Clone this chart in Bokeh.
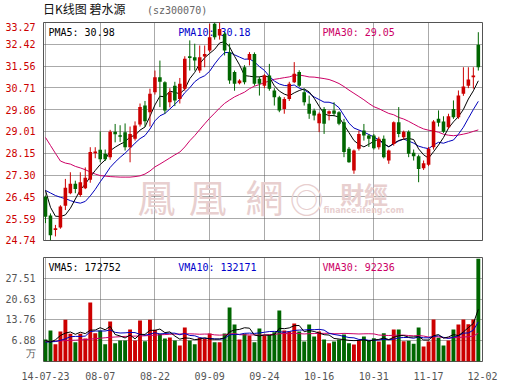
from bokeh.plotting import figure
from bokeh.layouts import column
from bokeh.models import (ColumnDataSource, FixedTicker, Label, Range1d, Div,
                          PrintfTickFormatter, CustomJSTickFormatter)
from bokeh.embed import file_html
from bokeh.resources import INLINE

# ---------------- data ----------------
date_labels = ["14-07-23", "08-07", "08-22", "09-09", "09-24", "10-16", "10-31", "11-17", "12-02"]
date_label_idx = [0, 11, 22, 33, 44, 55, 66, 77, 88]

opens = [26.45, 25.72, 25.15, 25.25, 26.10, 26.59, 26.96, 26.52, 26.78, 27.12,
         28.15, 28.29, 28.13, 28.00, 29.00, 28.86, 28.98, 28.39, 28.72, 29.28,
         30.02, 29.76, 30.54, 31.13, 30.93, 30.15, 30.80, 30.28, 30.68, 31.95,
         31.91, 31.39, 31.94, 32.17, 33.22, 32.76, 32.83, 32.11, 31.33, 30.89,
         31.52, 31.81, 32.04, 31.07, 30.80, 31.20, 30.61, 30.35, 29.89, 30.28,
         30.93, 31.33, 30.54, 30.09, 29.83, 29.33, 29.89, 29.70, 29.83, 29.76,
         29.37, 28.33, 27.48, 28.33, 29.04, 28.85, 28.85, 28.39, 28.72, 27.87,
         28.52, 29.37, 28.78, 29.00, 28.17, 28.04, 27.57, 27.70, 28.39, 29.50,
         29.40, 29.17, 29.89, 29.56, 30.48, 30.80, 31.13, 32.40]
highs = [26.50, 25.80, 25.35, 26.12, 27.15, 27.41, 27.08, 27.41, 27.60, 28.39,
         28.39, 29.00, 28.30, 29.07, 29.30, 29.25, 29.32, 29.20, 29.40, 30.10,
         30.20, 30.68, 31.39, 31.78, 30.97, 30.70, 30.95, 31.10, 31.95, 32.57,
         32.44, 32.37, 32.37, 33.22, 33.27, 33.27, 32.90, 32.44, 31.39, 31.05,
         31.60, 32.11, 32.10, 31.15, 31.25, 31.65, 30.70, 30.40, 30.35, 30.95,
         31.72, 31.40, 30.68, 30.41, 29.90, 29.75, 29.96, 29.83, 30.15, 29.80,
         29.50, 28.40, 28.30, 29.04, 29.30, 28.90, 28.91, 28.80, 28.85, 28.30,
         29.40, 29.96, 29.04, 29.05, 28.30, 28.10, 27.87, 28.40, 29.45, 29.83,
         29.60, 29.70, 30.22, 30.61, 31.52, 31.52, 31.52, 32.89]
lows = [25.42, 24.74, 24.90, 25.20, 25.93, 26.55, 26.59, 26.45, 26.75, 27.00,
        27.96, 27.80, 27.85, 27.90, 28.58, 28.60, 28.26, 27.80, 28.65, 29.20,
        29.20, 29.20, 30.45, 29.96, 29.70, 29.95, 30.00, 30.10, 30.60, 31.39,
        31.39, 31.30, 31.52, 32.10, 32.60, 32.60, 31.98, 30.87, 30.60, 30.85,
        30.85, 31.59, 30.80, 30.41, 30.70, 30.60, 30.02, 29.76, 29.70, 30.20,
        30.90, 30.74, 30.02, 29.50, 29.44, 28.98, 28.91, 29.44, 29.60, 29.25,
        28.00, 27.78, 27.35, 28.26, 28.65, 28.40, 28.30, 28.30, 27.95, 27.74,
        28.45, 28.78, 28.70, 28.00, 27.87, 27.02, 27.50, 27.65, 28.30, 29.20,
        28.95, 29.10, 29.50, 29.50, 30.40, 30.70, 30.68, 31.39]
closes = [25.67, 24.95, 25.22, 26.07, 26.80, 26.96, 26.76, 27.02, 27.20, 28.20,
          28.22, 27.92, 27.92, 29.00, 28.90, 28.80, 28.39, 28.91, 29.24, 29.96,
          29.41, 30.48, 31.13, 30.95, 29.83, 30.54, 30.22, 30.87, 31.85, 31.88,
          31.78, 31.91, 32.04, 32.69, 32.69, 33.02, 32.17, 31.00, 30.87, 31.00,
          30.93, 32.04, 30.87, 30.87, 31.20, 30.68, 30.35, 29.83, 30.28, 30.87,
          31.26, 30.80, 30.15, 29.70, 29.63, 29.70, 29.31, 29.80, 29.70, 29.31,
          28.20, 27.80, 28.26, 28.91, 28.85, 28.72, 28.35, 28.72, 28.00, 28.26,
          29.37, 28.91, 29.00, 28.13, 28.04, 27.54, 27.76, 28.33, 29.40, 29.35,
          29.00, 29.60, 29.56, 30.41, 30.77, 31.04, 31.20, 31.52]
# volume, in units of 10 000 (万)
volumes = [7.27, 10.25, 5.73, 9.92, 13.78, 9.15, 6.39, 9.15, 7.60, 19.50,
           9.37, 10.25, 5.73, 13.23, 6.06, 6.94, 6.94, 10.58, 6.94, 13.56,
           6.72, 13.78, 10.47, 9.15, 7.60, 7.94, 6.94, 5.29, 11.24, 6.94,
           5.73, 7.83, 7.50, 9.26, 6.39, 6.39, 9.26, 17.86, 12.24, 7.27,
           9.15, 8.60, 6.39, 10.90, 8.60, 8.82, 9.70, 16.87, 10.25, 9.92,
           12.57, 9.92, 6.61, 12.24, 8.27, 9.92, 7.27, 6.06, 6.61, 7.27,
           8.93, 6.06, 5.62, 6.94, 8.27, 6.94, 7.72, 6.61, 9.37, 5.62,
           10.58, 10.58, 6.72, 6.83, 5.84, 11.24, 4.96, 6.61, 13.89, 7.83,
           5.29, 6.94, 10.58, 12.24, 13.89, 12.35, 13.89, 34.00]

# moving-average values before a full window exists
pma5_head = [26.70, 26.04, 25.69, 25.68]
pma10_head = [26.70, 26.60, 26.50, 26.43, 26.38, 26.30, 26.24, 26.20, 26.27]
pma30_head = [28.77, 28.46, 28.15, 27.85, 27.77, 27.73, 27.64, 27.58, 27.51, 27.42,
              27.34, 27.28, 27.26, 27.24, 27.23, 27.22, 27.22, 27.22, 27.24, 27.27,
              27.34, 27.46, 27.62, 27.73, 27.85, 27.97, 28.09, 28.20, 28.40]
vma5_head = [6.94, 6.39, 7.17, 8.60]
vma10_head = [6.40, 6.50, 6.60, 7.00, 7.50, 8.20, 8.30, 8.30, 8.40]
vma30_head = [6.60, 6.65, 6.70, 6.80, 6.90, 7.00, 7.05, 7.15, 7.25, 7.40,
              7.55, 7.70, 7.85, 8.00, 8.10, 8.20, 8.30, 8.35, 8.40, 8.45,
              8.50, 8.60, 8.70, 8.85, 8.90, 9.00, 9.05, 9.10, 9.15]

price_ticks = [24.74, 25.59, 26.45, 27.30, 28.15, 29.01, 29.86, 30.71, 31.56, 32.42, 33.27]
vol_ticks = [6.88, 13.76, 20.63, 27.51]
vol_top = 34.39
vol_unit = "万"

legend_price = ["PMA5: 30.98", "PMA10: 30.18", "PMA30: 29.05"]
legend_vol = ["VMA5: 172752", "VMA10: 132171", "VMA30: 92236"]
title_main = "日K线图 碧水源"
title_code = "(sz300070)"

# ---------------- derived ----------------
def moving(vals, n, head):
    out = list(head)
    for i in range(len(head), len(vals)):
        out.append(sum(vals[i - n + 1:i + 1]) / n)
    return out

N = len(closes)
idx = list(range(N))
RED, GREEN = "#cc0000", "#006600"
C5, C10, C30 = "#000000", "#0000bb", "#cc0066"
colors = [RED if c >= o else GREEN for o, c in zip(opens, closes)]

src = ColumnDataSource(dict(
    x=idx, o=opens, h=highs, l=lows, c=closes,
    top=[max(a, b) for a, b in zip(opens, closes)],
    bot=[min(a, b) for a, b in zip(opens, closes)],
    vol=volumes, color=colors,
    ma5=moving(closes, 5, pma5_head), ma10=moving(closes, 10, pma10_head),
    ma30=moving(closes, 30, pma30_head),
    v5=moving(volumes, 5, vma5_head), v10=moving(volumes, 10, vma10_head),
    v30=moving(volumes, 30, vma30_head),
))

X_LO, X_HI = -0.4, 87.84
MONO = "DejaVu Sans Mono"
CJK = "Noto Sans CJK SC"
GRID = "#555555"

xt = [min(max(t, X_LO + 0.001), X_HI - 0.001) for t in date_label_idx]

# ---------------- title strip ----------------
title_html = (
    '<div style="padding:2px 0 0 43px;white-space:nowrap;line-height:14px;">'
    '<span style="display:inline-block;width:104px;line-height:14px;'
    'font-family:\'Noto Sans CJK SC\';font-size:12px;color:#111111;">' + title_main + '</span>'
    '<span style="display:inline-block;line-height:14px;font-family:\'DejaVu Sans Mono\';'
    'font-size:10px;color:#666666;">' + title_code + '</span></div>'
)
p0 = Div(text=title_html, width=530, height=22, margin=0)

# ---------------- price panel ----------------
p1 = figure(width=530, height=226, x_range=Range1d(X_LO, X_HI),
            y_range=Range1d(price_ticks[0], price_ticks[-1]),
            output_backend="svg", toolbar_location=None,
            min_border_left=43, min_border_right=48, min_border_top=0,
            min_border_bottom=8, x_axis_location=None)
p1.outline_line_color = "#555555"
p1.outline_line_width = 1
p1.xgrid.ticker = FixedTicker(ticks=xt)
p1.grid.grid_line_color = GRID
p1.grid.grid_line_dash = "1 1"
p1.grid.grid_line_width = 1
yt = [price_ticks[0] + 0.0001] + price_ticks[1:-1] + [price_ticks[-1] - 0.0001]
p1.yaxis.ticker = FixedTicker(ticks=yt)
p1.yaxis.formatter = PrintfTickFormatter(format="%.2f")
p1.yaxis.axis_line_color = None
p1.yaxis.major_tick_line_color = None
p1.yaxis.minor_tick_line_color = None
p1.yaxis.major_label_standoff = 2
p1.yaxis.major_label_text_font = MONO
p1.yaxis.major_label_text_font_size = "10px"
p1.yaxis.major_label_text_color = "#cc0000"

for txt, xx, col in zip(legend_price, [0.6, 26.7, 55.7], [C5, "#0000cc", C30]):
    p1.add_layout(Label(x=xx, y=32.88, text=txt, text_font=MONO, text_font_size="10px",
                        text_color=col, text_baseline="middle", level="underlay"))

# watermark
WM = "#e8cfcf"
p1.text(x=[22.3, 32.6, 44.0], y=[26.50] * 3, text=["鳳", "凰", "網"],
        text_font={"value": CJK}, text_font_size="38px", text_color=WM,
        text_align="center", text_baseline="middle")
p1.text(x=[52.5], y=[26.38], text=["◎"], text_font={"value": CJK},
        text_font_size="34px", text_color=WM, text_align="center", text_baseline="middle")
p1.text(x=[64.0], y=[26.58], text=["財經"], text_font={"value": CJK},
        text_font_size="24px", text_font_style="bold", text_color=WM,
        text_align="center", text_baseline="middle")
p1.text(x=[64.0], y=[25.90], text=["finance.ifeng.com"], text_font={"value": "DejaVu Sans"},
        text_font_size="8px", text_font_style="bold", text_color=WM,
        text_align="center", text_baseline="middle")

p1.line("x", "ma30", source=src, color=C30, line_width=1)
p1.line("x", "ma10", source=src, color=C10, line_width=1)
p1.line("x", "ma5", source=src, color=C5, line_width=1)
p1.segment(x0="x", y0="l", x1="x", y1="h", source=src, color="color", line_width=1)
p1.vbar(x="x", width=0.72, top="top", bottom="bot", source=src,
        fill_color="color", line_color=None)

# ---------------- volume panel ----------------
p2 = figure(width=530, height=143, x_range=p1.x_range,
            y_range=Range1d(0, vol_top),
            output_backend="svg", toolbar_location=None,
            min_border_left=43, min_border_right=48, min_border_top=9,
            min_border_bottom=30)
p2.outline_line_color = "#555555"
p2.outline_line_width = 1
p2.grid.grid_line_color = GRID
p2.grid.grid_line_dash = "1 1"
p2.xaxis.ticker = FixedTicker(ticks=xt)
p2.xaxis.formatter = CustomJSTickFormatter(args=dict(pos=xt, lab=date_labels), code="""
    let best = 0, bd = 1e9;
    for (let i = 0; i < pos.length; i++) {
        const d = Math.abs(pos[i] - tick);
        if (d < bd) { bd = d; best = i; }
    }
    return lab[best];
""")
p2.ygrid.ticker = FixedTicker(ticks=vol_ticks)
p2.yaxis.ticker = FixedTicker(ticks=[2.6] + vol_ticks)
p2.yaxis.formatter = CustomJSTickFormatter(args=dict(unit=vol_unit), code="""
    return tick < 5 ? unit : tick.toFixed(2);
""")
for ax in (p2.xaxis, p2.yaxis):
    ax.axis_line_color = None
    ax.major_tick_line_color = None
    ax.minor_tick_line_color = None
    ax.major_label_text_font = MONO
    ax.major_label_text_font_size = "10px"
    ax.major_label_text_color = "#555555"
p2.yaxis.major_label_standoff = 2
p2.xaxis.major_label_standoff = 4

for txt, xx, col in zip(legend_vol, [0.6, 26.7, 55.7], [C5, "#0000cc", C30]):
    p2.add_layout(Label(x=xx, y=31.09, text=txt, text_font=MONO, text_font_size="10px",
                        text_color=col, text_baseline="middle", level="underlay"))

p2.vbar(x="x", width=0.78, top="vol", bottom=0, source=src,
        fill_color="color", line_color=None)
p2.line("x", "v30", source=src, color=C30, line_width=1)
p2.line("x", "v10", source=src, color=C10, line_width=1)
p2.line("x", "v5", source=src, color=C5, line_width=1)

layout = column(p0, p1, p2, spacing=0)
open("out.html", "w").write(file_html(layout, INLINE))
